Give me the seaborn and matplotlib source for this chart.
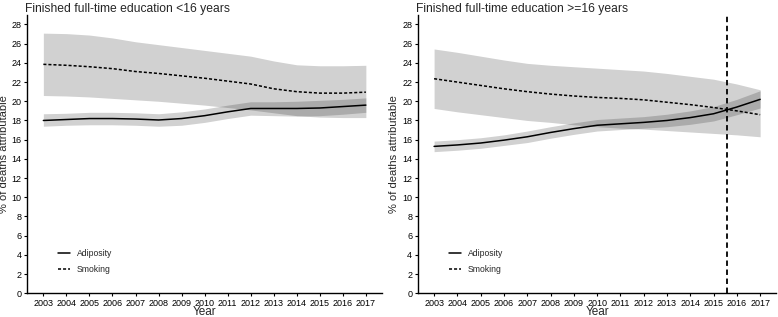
import matplotlib
matplotlib.use("Agg")
import matplotlib.pyplot as plt
import pandas as pd
import seaborn as sns

years = list(range(2003, 2018))

# Finished full-time education <16 years
low_adip = [18.0, 18.1, 18.2, 18.2, 18.15, 18.05, 18.2, 18.5, 18.9, 19.25, 19.25, 19.25, 19.3, 19.45, 19.6]
low_adip_lo = [17.4, 17.5, 17.55, 17.55, 17.5, 17.4, 17.5, 17.8, 18.2, 18.55, 18.5, 18.45, 18.5, 18.65, 18.85]
low_adip_hi = [18.7, 18.75, 18.85, 18.85, 18.8, 18.7, 18.9, 19.2, 19.6, 19.95, 19.95, 20.0, 20.1, 20.2, 20.35]
low_smok = [23.85, 23.75, 23.6, 23.4, 23.1, 22.9, 22.65, 22.4, 22.1, 21.8, 21.3, 21.0, 20.85, 20.85, 20.95]
low_smok_lo = [20.6, 20.55, 20.45, 20.3, 20.15, 20.0, 19.8, 19.6, 19.35, 19.1, 18.8, 18.5, 18.35, 18.3, 18.3]
low_smok_hi = [27.1, 27.05, 26.9, 26.6, 26.2, 25.9, 25.6, 25.3, 25.0, 24.7, 24.2, 23.8, 23.7, 23.7, 23.75]

# Finished full-time education >=16 years
high_adip = [15.3, 15.45, 15.65, 15.95, 16.3, 16.75, 17.15, 17.5, 17.65, 17.8, 18.0, 18.3, 18.7, 19.4, 20.2]
high_adip_lo = [14.75, 14.9, 15.1, 15.4, 15.7, 16.15, 16.55, 16.9, 17.05, 17.2, 17.35, 17.6, 17.95, 18.6, 19.3]
high_adip_hi = [15.85, 16.0, 16.2, 16.5, 16.9, 17.35, 17.75, 18.1, 18.25, 18.4, 18.65, 19.0, 19.45, 20.2, 21.1]
high_smok = [22.35, 22.0, 21.65, 21.3, 21.0, 20.75, 20.55, 20.4, 20.3, 20.15, 19.9, 19.65, 19.35, 19.0, 18.6]
high_smok_lo = [19.25, 18.9, 18.6, 18.3, 18.0, 17.8, 17.55, 17.35, 17.2, 17.1, 16.95, 16.8, 16.65, 16.5, 16.3]
high_smok_hi = [25.45, 25.1, 24.7, 24.3, 23.95, 23.75, 23.6, 23.45, 23.3, 23.15, 22.9, 22.6, 22.3, 21.8, 21.2]

titles = ["Finished full-time education <16 years", "Finished full-time education >=16 years"]
cutoff_year = 2015.58

sns.set_theme(style="ticks")
plt.rcParams["font.family"] = ["Liberation Sans", "DejaVu Sans"]

fig = plt.figure(figsize=(7.78, 3.17), dpi=100)
ax1 = fig.add_axes([0.035, 0.075, 0.456, 0.878])
ax2 = fig.add_axes([0.537, 0.075, 0.461, 0.878])

panels = [
    (ax1, low_adip, low_adip_lo, low_adip_hi, low_smok, low_smok_lo, low_smok_hi),
    (ax2, high_adip, high_adip_lo, high_adip_hi, high_smok, high_smok_lo, high_smok_hi),
]

for i, (ax, adip, adip_lo, adip_hi, smok, smok_lo, smok_hi) in enumerate(panels):
    df = pd.DataFrame({
        "Year": years * 2,
        "value": adip + smok,
        "Risk": ["Adiposity"] * len(years) + ["Smoking"] * len(years),
    })
    ax.fill_between(years, smok_lo, smok_hi, color="black", alpha=0.18, linewidth=0)
    ax.fill_between(years, adip_lo, adip_hi, color="black", alpha=0.18, linewidth=0)
    sns.lineplot(data=df, x="Year", y="value", style="Risk", color="black",
                 dashes={"Adiposity": "", "Smoking": (2, 1.3)},
                 linewidth=1.1, ax=ax)
    if i == 1:
        ax.axvline(cutoff_year, color="black", linestyle=(0, (3, 2)), linewidth=1.3)

    ax.set_xlim(2002.3, 2017.7)
    ax.set_ylim(0, 29)
    ax.set_xticks(years)
    ax.set_yticks(range(0, 29, 2))
    ax.tick_params(labelsize=6.5, length=2.5, width=0.8, pad=1.5, colors="black")
    ax.set_xlabel("Year", fontsize=8.5, labelpad=-1)
    ax.set_ylabel("% of deaths attributable", fontsize=8, labelpad=2)
    for s in ["left", "bottom"]:
        ax.spines[s].set_linewidth(1.0)
        ax.spines[s].set_color("black")
    sns.despine(ax=ax)
    ax.set_title(titles[i], fontsize=8.7, loc="left", x=-0.005, y=0.99, pad=4)
    ax.legend(loc="lower left", bbox_to_anchor=(0.065, 0.04), frameon=False,
              fontsize=6.2, handlelength=1.4, labelspacing=0.85, handletextpad=0.8)

fig.savefig("out.png", dpi=100)
